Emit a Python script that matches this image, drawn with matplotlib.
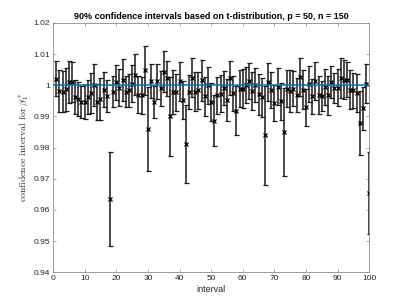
import numpy as np
import matplotlib
matplotlib.use("Agg")
import matplotlib.pyplot as plt

# interval index, centre estimate and half width
interval = np.arange(1, 101)
centre = [
    1.0021, 0.9982, 0.9980, 0.9987, 1.0011, 1.0010, 0.9962, 0.9957, 0.9946, 0.9946,
    0.9962, 0.9975, 1.0000, 0.9946, 0.9957, 0.9986, 0.9965, 0.9635, 0.9980, 1.0010,
    0.9992, 1.0016, 0.9980, 0.9984, 1.0005, 1.0034, 0.9970, 0.9968, 1.0048, 0.9860,
    1.0013, 0.9946, 1.0013, 0.9991, 1.0043, 1.0022, 0.9900, 0.9978, 0.9978, 1.0013,
    0.9952, 0.9812, 0.9978, 1.0025, 0.9980, 0.9984, 1.0016, 0.9965, 1.0000, 0.9946,
    0.9887, 0.9968, 0.9973, 0.9992, 0.9954, 1.0024, 0.9975, 0.9919, 0.9989, 0.9989,
    1.0000, 1.0014, 0.9982, 1.0000, 0.9971, 0.9962, 0.9839, 1.0010, 0.9984, 0.9943,
    0.9995, 0.9949, 0.9850, 0.9989, 0.9982, 0.9989, 0.9968, 1.0027, 0.9986, 0.9930,
    1.0005, 0.9965, 1.0014, 0.9968, 0.9965, 0.9995, 0.9968, 1.0010, 0.9992, 0.9992,
    1.0024, 1.0018, 1.0018, 0.9986, 0.9984, 0.9975, 0.9880, 0.9926, 1.0005, 0.9655,
]
half_width = [
    0.0056, 0.0068, 0.0067, 0.0069, 0.0067, 0.0065, 0.0054, 0.0055, 0.0051, 0.0054,
    0.0055, 0.0063, 0.0068, 0.0058, 0.0068, 0.0056, 0.0051, 0.0150, 0.0051, 0.0056,
    0.0059, 0.0067, 0.0051, 0.0053, 0.0060, 0.0066, 0.0059, 0.0059, 0.0079, 0.0135,
    0.0055, 0.0052, 0.0056, 0.0056, 0.0066, 0.0056, 0.0127, 0.0070, 0.0059, 0.0063,
    0.0061, 0.0124, 0.0055, 0.0063, 0.0062, 0.0060, 0.0066, 0.0062, 0.0059, 0.0060,
    0.0082, 0.0059, 0.0060, 0.0054, 0.0067, 0.0055, 0.0056, 0.0080, 0.0059, 0.0063,
    0.0058, 0.0059, 0.0060, 0.0054, 0.0065, 0.0063, 0.0160, 0.0060, 0.0058, 0.0059,
    0.0059, 0.0059, 0.0140, 0.0060, 0.0067, 0.0056, 0.0054, 0.0061, 0.0062, 0.0059,
    0.0058, 0.0056, 0.0062, 0.0061, 0.0048, 0.0058, 0.0062, 0.0051, 0.0048, 0.0059,
    0.0065, 0.0063, 0.0056, 0.0063, 0.0056, 0.0060, 0.0103, 0.0070, 0.0063, 0.0131,
]
true_value = 1.0
x_ticks = np.arange(0, 101, 10)
y_ticks = [0.94, 0.95, 0.96, 0.97, 0.98, 0.99, 1.0, 1.01, 1.02]
y_tick_labels = ["0.94", "0.95", "0.96", "0.97", "0.98", "0.99", "1", "1.01", "1.02"]

plt.rcParams['font.family'] = ['Liberation Sans', 'DejaVu Sans']
plt.rcParams['mathtext.fontset'] = 'cm'

fig = plt.figure(figsize=(4.08, 3.06), dpi=100)
ax = fig.add_axes([0.13, 0.11, 0.775, 0.815])

ax.errorbar(interval, centre, yerr=half_width, fmt='x', color='black',
            ecolor='#1a1a1a', elinewidth=1.1, capsize=1.8, capthick=1.0,
            markersize=2.5, markeredgewidth=0.9, zorder=2)
ax.plot([0, 100], [true_value, true_value], color='#0072BD', linewidth=1.1, zorder=3)

ax.set_xlim(0, 100)
ax.set_ylim(0.94, 1.02)
ax.set_xticks(x_ticks)
ax.set_yticks(y_ticks)
ax.set_yticklabels(y_tick_labels)

grey = '#262626'
for side in ax.spines.values():
    side.set_color('#8a8a8a')
    side.set_linewidth(0.6)
ax.tick_params(direction='in', length=2.5, width=0.5, colors='#8a8a8a',
               labelcolor=grey, labelsize=6, top=True, right=True, pad=2)

ax.set_title('90% confidence intervals based on t-distribution, p = 50, n = 150',
             fontsize=6.5, fontweight='bold', color='black', pad=3)
ax.set_xlabel('interval', fontsize=6.5, color=grey, labelpad=2)
ax.set_ylabel(r'$\mathrm{confidence\ interval\ for\ }\beta^*_1$', fontsize=7,
              color=grey, labelpad=2)

fig.savefig('out.png', dpi=100)
